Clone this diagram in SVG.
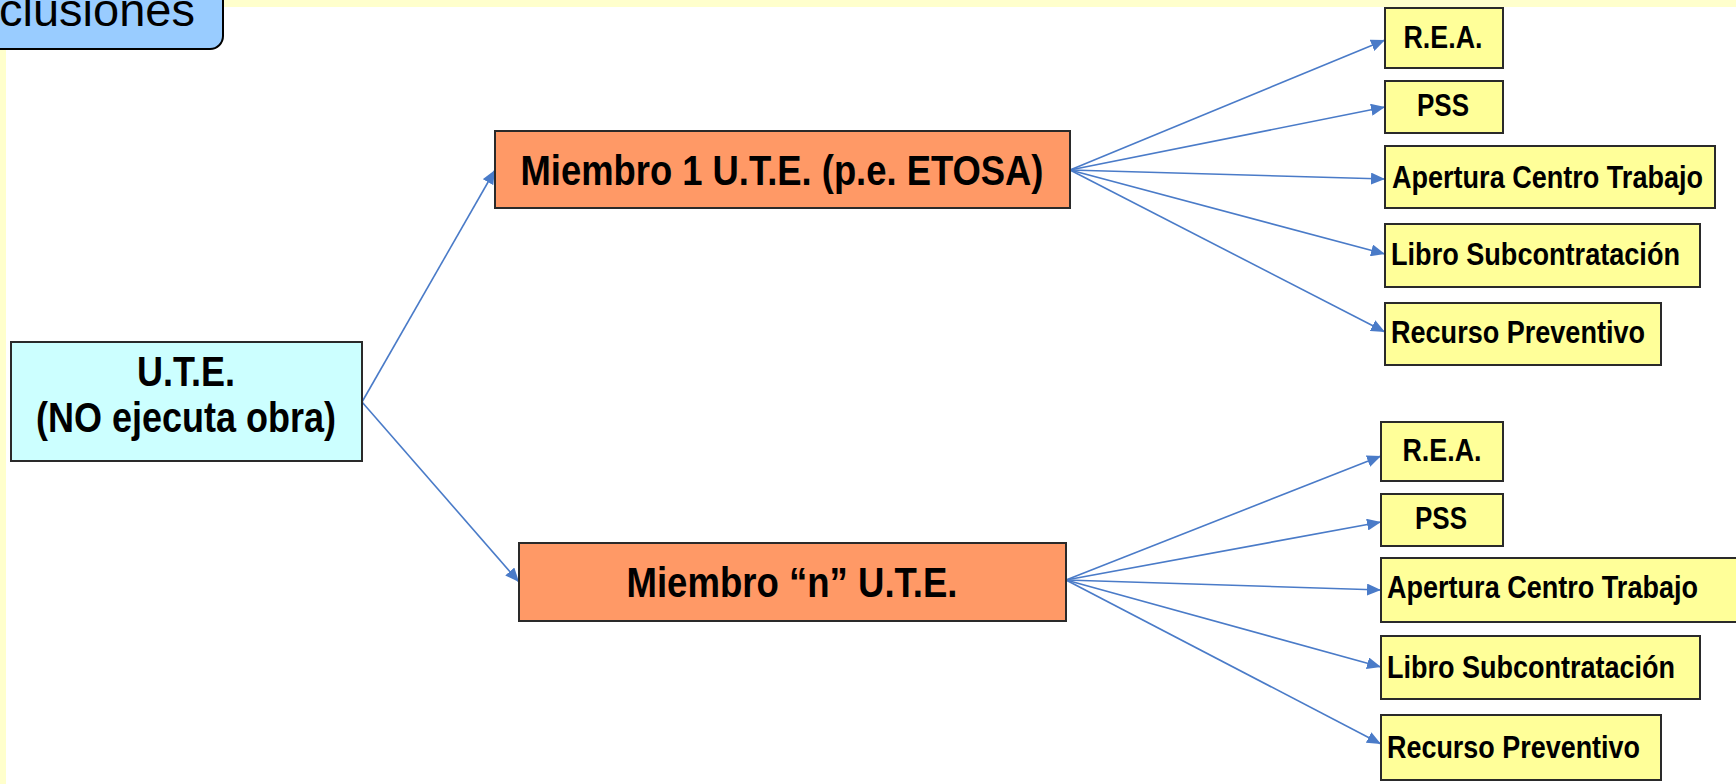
<svg xmlns="http://www.w3.org/2000/svg" width="1736" height="784" viewBox="0 0 1736 784">
<style>
.bg{fill:#FFFFCC}
.box{stroke:#2a2a2a;stroke-width:2}
.ute{fill:#CCFFFF}
.mem{fill:#FF9966}
.leaf{fill:#FFFF99}
.t{font-family:"Liberation Sans",Arial,sans-serif;font-weight:bold;fill:#000}
.big{font-size:43px}
.sm{font-size:32px}
.con{stroke:#4A7BC8;stroke-width:1.6;fill:none;marker-end:url(#ah)}
</style>
<defs>
<marker id="ah" markerUnits="userSpaceOnUse" markerWidth="16" markerHeight="12" refX="14" refY="6" orient="auto">
<path d="M0,0 L14,6 L0,12 z" fill="#4A7BC8"/>
</marker>
</defs>
<rect width="1736" height="784" fill="#FFFFFF"/>
<rect class="bg" x="0" y="0" width="1736" height="7"/>
<rect class="bg" x="0" y="0" width="6" height="784"/>
<g id="tab">
<rect x="-20" y="-20" width="243" height="69" rx="13" fill="#99CCFF" stroke="#000" stroke-width="2"/>
<text x="-1" y="26" font-family="'Liberation Sans',Arial,sans-serif" font-size="47" fill="#000">clusiones</text>
</g>
<g id="connectors">
<line class="con" x1="362" y1="402" x2="495" y2="170"/>
<line class="con" x1="362" y1="402" x2="519" y2="582"/>
<line class="con" x1="1070" y1="170" x2="1385" y2="40"/>
<line class="con" x1="1070" y1="170" x2="1385" y2="107"/>
<line class="con" x1="1070" y1="170" x2="1385" y2="179"/>
<line class="con" x1="1070" y1="170" x2="1385" y2="254"/>
<line class="con" x1="1070" y1="170" x2="1385" y2="332"/>
<line class="con" x1="1066" y1="580" x2="1381" y2="456"/>
<line class="con" x1="1066" y1="580" x2="1381" y2="522"/>
<line class="con" x1="1066" y1="580" x2="1381" y2="590"/>
<line class="con" x1="1066" y1="580" x2="1381" y2="667"/>
<line class="con" x1="1066" y1="580" x2="1381" y2="744"/>
</g>
<g id="ute">
<rect class="box ute" x="11" y="342" width="351" height="119"/>
<text class="t big" x="186" y="386" text-anchor="middle" textLength="98" lengthAdjust="spacingAndGlyphs">U.T.E.</text>
<text class="t big" x="186" y="432" text-anchor="middle" textLength="300" lengthAdjust="spacingAndGlyphs">(NO ejecuta obra)</text>
</g>
<g id="miembro1">
<rect class="box mem" x="495" y="131" width="575" height="77"/>
<text class="t big" x="782" y="185" text-anchor="middle" textLength="523" lengthAdjust="spacingAndGlyphs">Miembro 1 U.T.E. (p.e. ETOSA)</text>
</g>
<g id="miembron">
<rect class="box mem" x="519" y="543" width="547" height="78"/>
<text class="t big" x="792" y="597" text-anchor="middle" textLength="331" lengthAdjust="spacingAndGlyphs">Miembro “n” U.T.E.</text>
</g>
<g id="rea1">
<rect class="box leaf" x="1385" y="8" width="118" height="60"/>
<text class="t sm" x="1443" y="48" text-anchor="middle" textLength="79" lengthAdjust="spacingAndGlyphs">R.E.A.</text>
</g>
<g id="pss1">
<rect class="box leaf" x="1385" y="81" width="118" height="52"/>
<text class="t sm" x="1443" y="116" text-anchor="middle" textLength="52" lengthAdjust="spacingAndGlyphs">PSS</text>
</g>
<g id="apertura1">
<rect class="box leaf" x="1385" y="146" width="330" height="62"/>
<text class="t sm" x="1392" y="188" textLength="311" lengthAdjust="spacingAndGlyphs">Apertura Centro Trabajo</text>
</g>
<g id="libro1">
<rect class="box leaf" x="1385" y="224" width="315" height="63"/>
<text class="t sm" x="1391" y="265" textLength="289" lengthAdjust="spacingAndGlyphs">Libro Subcontratación</text>
</g>
<g id="recurso1">
<rect class="box leaf" x="1385" y="303" width="276" height="62"/>
<text class="t sm" x="1391" y="343" textLength="254" lengthAdjust="spacingAndGlyphs">Recurso Preventivo</text>
</g>
<g id="rea2">
<rect class="box leaf" x="1381" y="422" width="122" height="59"/>
<text class="t sm" x="1442" y="461" text-anchor="middle" textLength="79" lengthAdjust="spacingAndGlyphs">R.E.A.</text>
</g>
<g id="pss2">
<rect class="box leaf" x="1381" y="494" width="122" height="52"/>
<text class="t sm" x="1441" y="529" text-anchor="middle" textLength="52" lengthAdjust="spacingAndGlyphs">PSS</text>
</g>
<g id="apertura2">
<rect class="box leaf" x="1381" y="558" width="370" height="64"/>
<text class="t sm" x="1387" y="598" textLength="311" lengthAdjust="spacingAndGlyphs">Apertura Centro Trabajo</text>
</g>
<g id="libro2">
<rect class="box leaf" x="1381" y="636" width="319" height="63"/>
<text class="t sm" x="1387" y="678" textLength="288" lengthAdjust="spacingAndGlyphs">Libro Subcontratación</text>
</g>
<g id="recurso2">
<rect class="box leaf" x="1381" y="715" width="280" height="65"/>
<text class="t sm" x="1387" y="758" textLength="253" lengthAdjust="spacingAndGlyphs">Recurso Preventivo</text>
</g>
</svg>
